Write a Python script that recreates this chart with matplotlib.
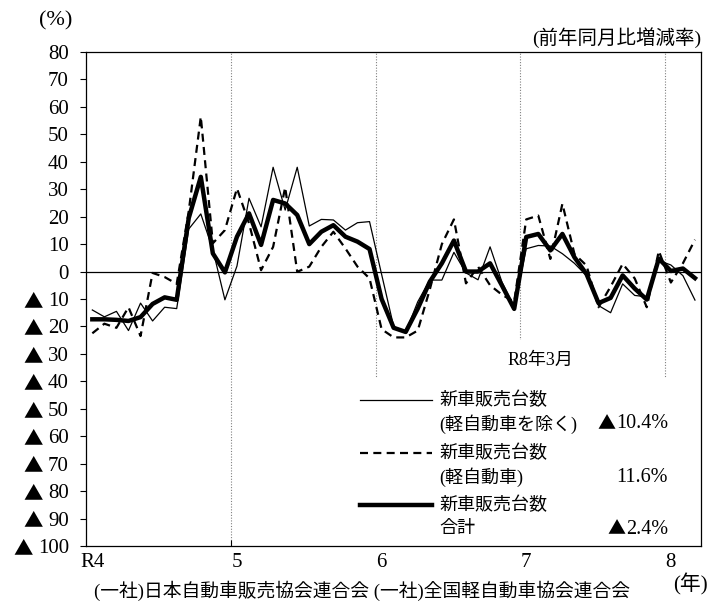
import numpy as np
import matplotlib
matplotlib.use("Agg")
import matplotlib.pyplot as plt
from matplotlib.lines import Line2D
from matplotlib.patches import Rectangle

plt.rcParams['font.family'] = ['Liberation Serif', 'Noto Sans CJK JP', 'DejaVu Sans']
CJK = ['Noto Sans CJK JP', 'DejaVu Sans']

# ---- data (monthly, Jan R4 .. Mar R8) ----
year_labels = ["R4", "5", "6", "7", "8"]
year_positions = [0, 12, 24, 36, 48]
year_boundaries = [11.5, 23.5, 35.5, 47.5]

registered = [-14, -16.5, -14.5, -21.5, -11.5, -18, -13, -13.5, 15.5, 21,
              8, -10.3, 2, 26.7, 16.3, 38, 22.4, 38, 16.6, 19,
              18.8, 15.1, 17.8, 18.2, -1, -20, -22, -11, -3.1, -3.1,
              7, -0.5, -3, 9, -4, -13, 8.3, 9.5, 9.3, 6.5,
              3, -1.5, -12.4, -15, -4.5, -8.7, -9.2, 4, 2.4, -1.5,
              -10.4]
kei = [-22.5, -19, -20.5, -13, -23.5, -0.5, -2, -4.5, 22, 56.4,
       10.3, 15.1, 30.3, 17.6, 0.5, 9, 30.7, -0.1, 1.8, 9,
       14.5, 8.4, 1.8, -2.5, -21, -24, -24, -21.5, -6.5, 10,
       19, -4.3, 1.8, -5, -8.5, -11, 19, 20.4, 4.6, 24.7,
       6.4, 2.2, -13, -5.5, 2.8, -2.5, -13, 7.5, -4, 3,
       11.6]
total = [-17.4, -17.4, -17.6, -18, -16.6, -11.8, -9.4, -10.3, 19.5, 34.5,
         6.6, -0.3, 12.7, 21.2, 9.7, 26.1, 24.8, 20.6, 10, 14.5,
         16.9, 12.7, 10.9, 8.2, -10, -20.5, -22, -13.5, -3.7, 3,
         11.3, 0, 0, 3, -5.2, -13.6, 12.6, 13.7, 7.7, 13.7,
         5.2, -0.9, -11.5, -9.6, -1.4, -6.2, -10.2, 4.7, 0.2, 1.1,
         -2.4]

legend_names = [("新車販売台数", "(軽自動車を除く)"),
                ("新車販売台数", "(軽自動車)"),
                ("新車販売台数", "合計")]
legend_values = [-10.4, 11.6, -2.4]
legend_title = "R8年3月"

y_ticks = list(range(-100, 81, 10))

# ---- figure ----
W, H = 721, 604
fig = plt.figure(figsize=(W / 100, H / 100), dpi=100)


def fx(px):
    return px / W


def fy(py):
    return 1 - py / H


ax = fig.add_axes([fx(86.3), fy(546), fx(701) - fx(86.3), fy(52) - fy(546)])

styles = [dict(lw=0.9, ls='-'),
          dict(lw=1.6, ls=(0, (3.6, 2.4))),
          dict(lw=3.2, ls='-')]

x = np.arange(len(total))
ax.plot(x, registered, color='black', zorder=4, **styles[0])
ax.plot(x, kei, color='black', zorder=4, **styles[1])
ax.plot(x, total, color='black', zorder=5, **styles[2])

ax.axhline(0, color='black', lw=0.9, zorder=3)
for b in year_boundaries:
    ax.axvline(b, color='#808080', lw=0.8, ls=(0, (1, 1.5)), zorder=1)

ax.set_xlim(-0.5, len(total) - 0.5)
ax.set_ylim(-100, 80)
ax.set_yticks(y_ticks)
ax.set_yticklabels([str(abs(v)) for v in y_ticks])
ax.tick_params(axis='y', direction='out', length=4.5, width=0.8, pad=8, labelsize=15)
ax.set_xticks(year_positions)
ax.set_xticklabels(year_labels)
ax.set_xticks(year_boundaries, minor=True)
ax.tick_params(axis='x', which='major', length=0, pad=5, labelsize=15)
ax.tick_params(axis='x', which='minor', direction='in', length=4, width=0.8)
for s in ax.spines.values():
    s.set_linewidth(0.9)

# white legend backgrounds
ax.add_patch(Rectangle((fx(358), fy(545.5)), fx(700) - fx(358), fy(378) - fy(545.5),
                       transform=fig.transFigure, facecolor='white', edgecolor='none',
                       zorder=2, clip_on=False))
ax.add_patch(Rectangle((fx(500), fy(378)), fx(592) - fx(500), fy(340) - fy(378),
                       transform=fig.transFigure, facecolor='white', edgecolor='none',
                       zorder=2, clip_on=False))

fig.text(fx(540), fy(360), legend_title, ha='center', va='center', fontsize=13)
rows = [400, 453, 505]
value_texts = []
for (n1, n2), val, st, ry in zip(legend_names, legend_values, styles, rows):
    fig.add_artist(Line2D([fx(360), fx(432)], [fy(ry), fy(ry)], color='black',
                          transform=fig.transFigure, **st))
    fig.text(fx(439), fy(ry), n1, ha='left', va='center', fontsize=13)
    fig.text(fx(439), fy(ry + 24), n2, ha='left', va='center', fontsize=13)
    t = fig.text(fx(668), fy(ry + 24), f"{abs(val):.1f}%", ha='right', va='center',
                 fontsize=14.5)
    value_texts.append((t, val < 0))

fig.text(fx(56), fy(21), "(%)", ha='center', va='center', fontsize=16)
fig.text(fx(701), fy(38), "(前年同月比増減率)", ha='right', va='center', fontsize=14)
fig.text(fx(690), fy(584), "(年)", ha='center', va='center', fontsize=15)
fig.text(fx(362), fy(591), "(一社)日本自動車販売協会連合会 (一社)全国軽自動車協会連合会",
         ha='center', va='center', fontsize=13.5)

# black triangles (minus sign) drawn in a CJK font in front of numbers
fig.canvas.draw()
renderer = fig.canvas.get_renderer()
for v, lbl in zip(y_ticks, ax.get_yticklabels()):
    if v < 0:
        bb = lbl.get_window_extent(renderer)
        fig.text((bb.x0 - 5) / W, (bb.y0 + bb.y1) / 2 / H, "▲", ha='right',
                 va='center', fontsize=14, family=CJK)
for t, neg in value_texts:
    if neg:
        bb = t.get_window_extent(renderer)
        fig.text((bb.x0 - 0.5) / W, (bb.y0 + bb.y1) / 2 / H, "▲", ha='right',
                 va='center', fontsize=13, family=CJK)

fig.savefig("out.png", dpi=100)
